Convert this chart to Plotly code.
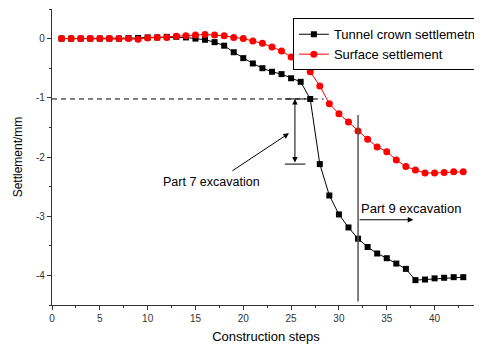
import plotly.graph_objects as go

steps = list(range(1, 44))
tunnel_crown = [0, 0, 0, 0, 0, 0, 0, 0.01, 0.01, 0.02,
                0.02, 0.03, 0.03, 0.02, 0.0, -0.02, -0.06, -0.12, -0.23, -0.33,
                -0.42, -0.50, -0.56, -0.60, -0.67, -0.73, -1.02, -2.12, -2.65, -2.97,
                -3.19, -3.38, -3.52, -3.63, -3.71, -3.80, -3.89, -4.08, -4.07, -4.05,
                -4.04, -4.03, -4.03]
surface = [0, 0, 0, 0, 0, 0, 0, 0, -0.01, 0.01,
           0.02, 0.02, 0.04, 0.05, 0.06, 0.07, 0.06, 0.05, 0.02, 0.0,
           -0.04, -0.08, -0.14, -0.21, -0.31, -0.45, -0.56, -0.80, -1.10, -1.27,
           -1.41, -1.56, -1.70, -1.83, -1.91, -2.05, -2.16, -2.22, -2.27, -2.27,
           -2.26, -2.25, -2.25]

x_ticks = [0, 5, 10, 15, 20, 25, 30, 35, 40]
y_ticks = [-4, -3, -2, -1, 0]
y_ticktext = ["-4", "-3", "-2", "-1", "0"]

FONT = "Liberation Sans, Arial, sans-serif"
AXC = "#333333"

fig = go.Figure()
fig.add_trace(go.Scatter(x=steps, y=tunnel_crown, mode="lines+markers",
                         name="Tunnel crown settlemetn",
                         line=dict(color="black", width=1),
                         marker=dict(symbol="square", size=6, color="black")))
fig.add_trace(go.Scatter(x=steps, y=surface, mode="lines+markers",
                         name="Surface settlement",
                         line=dict(color="red", width=1),
                         marker=dict(symbol="circle", size=7, color="red")))

shapes = [
    dict(type="line", xref="x", yref="y", x0=0, x1=28.4, y0=-1.02, y1=-1.02,
         line=dict(color="black", width=1, dash="5px,4px")),
    dict(type="line", xref="x", yref="y", x0=24.35, x1=26.5, y0=-1.02, y1=-1.02,
         line=dict(color="black", width=1)),
    dict(type="line", xref="x", yref="y", x0=24.35, x1=26.5, y0=-2.12, y1=-2.12,
         line=dict(color="black", width=1)),
    dict(type="line", xref="x", yref="y", x0=32, x1=32, y0=-1.29, y1=-4.44,
         line=dict(color="#555555", width=1.5)),
]

annotations = [
    dict(x=25.4, y=-1.02, ax=25.4, ay=-2.12, xref="x", yref="y", axref="x", ayref="y",
         text="", showarrow=True, arrowhead=2, arrowsize=1.1, arrowwidth=1,
         arrowside="end+start", arrowcolor="black"),
    dict(x=24.77, y=-1.60, ax=18.7, ay=-2.25, xref="x", yref="y", axref="x", ayref="y",
         text="", showarrow=True, arrowhead=2, arrowsize=1.1, arrowwidth=1,
         arrowcolor="black"),
    dict(x=37.77, y=-3.06, ax=32, ay=-3.06, xref="x", yref="y", axref="x", ayref="y",
         text="", showarrow=True, arrowhead=2, arrowsize=1.1, arrowwidth=1,
         arrowcolor="black"),
    dict(x=16.65, y=-2.42, xref="x", yref="y", text="Part 7 excavation",
         showarrow=False, font=dict(family=FONT, size=12.5, color="black")),
    dict(x=37.56, y=-2.87, xref="x", yref="y", text="Part 9 excavation",
         showarrow=False, font=dict(family=FONT, size=13, color="black")),
    dict(x=1.004, y=-0.043, xref="paper", yref="paper", text="45",
         showarrow=False, xanchor="center", yanchor="middle",
         font=dict(family=FONT, size=10, color=AXC)),
]

fig.update_layout(
    width=474, height=341,
    margin=dict(l=44, r=0, t=1, b=44),
    paper_bgcolor="white", plot_bgcolor="white",
    font=dict(family=FONT, color="black"),
    showlegend=True,
    legend=dict(x=0.5628, y=0.9686, xanchor="left", yanchor="top",
                bordercolor="black", borderwidth=1, bgcolor="white",
                font=dict(family=FONT, size=13, color="black"),
                tracegroupgap=0),
    shapes=shapes,
    annotations=annotations,
)
fig.update_xaxes(range=[0, 44.75], showline=True, linecolor=AXC, linewidth=1.3,
                 ticks="outside", ticklen=4, tickwidth=1, tickcolor=AXC,
                 tickvals=x_ticks, showgrid=False, zeroline=False,
                 tickfont=dict(family=FONT, size=10, color=AXC),
                 minor=dict(dtick=2.5, ticks="outside", ticklen=2, tickcolor=AXC, showgrid=False),
                 title=dict(text="Construction steps", font=dict(family=FONT, size=13, color="black"),
                            standoff=8))
fig.update_yaxes(range=[-4.5, 0.5], showline=True, linecolor=AXC, linewidth=1.3,
                 ticks="outside", ticklen=4, tickwidth=1, tickcolor=AXC,
                 tickvals=y_ticks, ticktext=y_ticktext, showgrid=False, zeroline=False,
                 tickfont=dict(family=FONT, size=10, color=AXC),
                 minor=dict(dtick=0.5, ticks="outside", ticklen=2, tickcolor=AXC, showgrid=False),
                 title=dict(text="Settlement/mm", font=dict(family=FONT, size=12, color="black"),
                            standoff=10))

fig.write_html("out.html")
